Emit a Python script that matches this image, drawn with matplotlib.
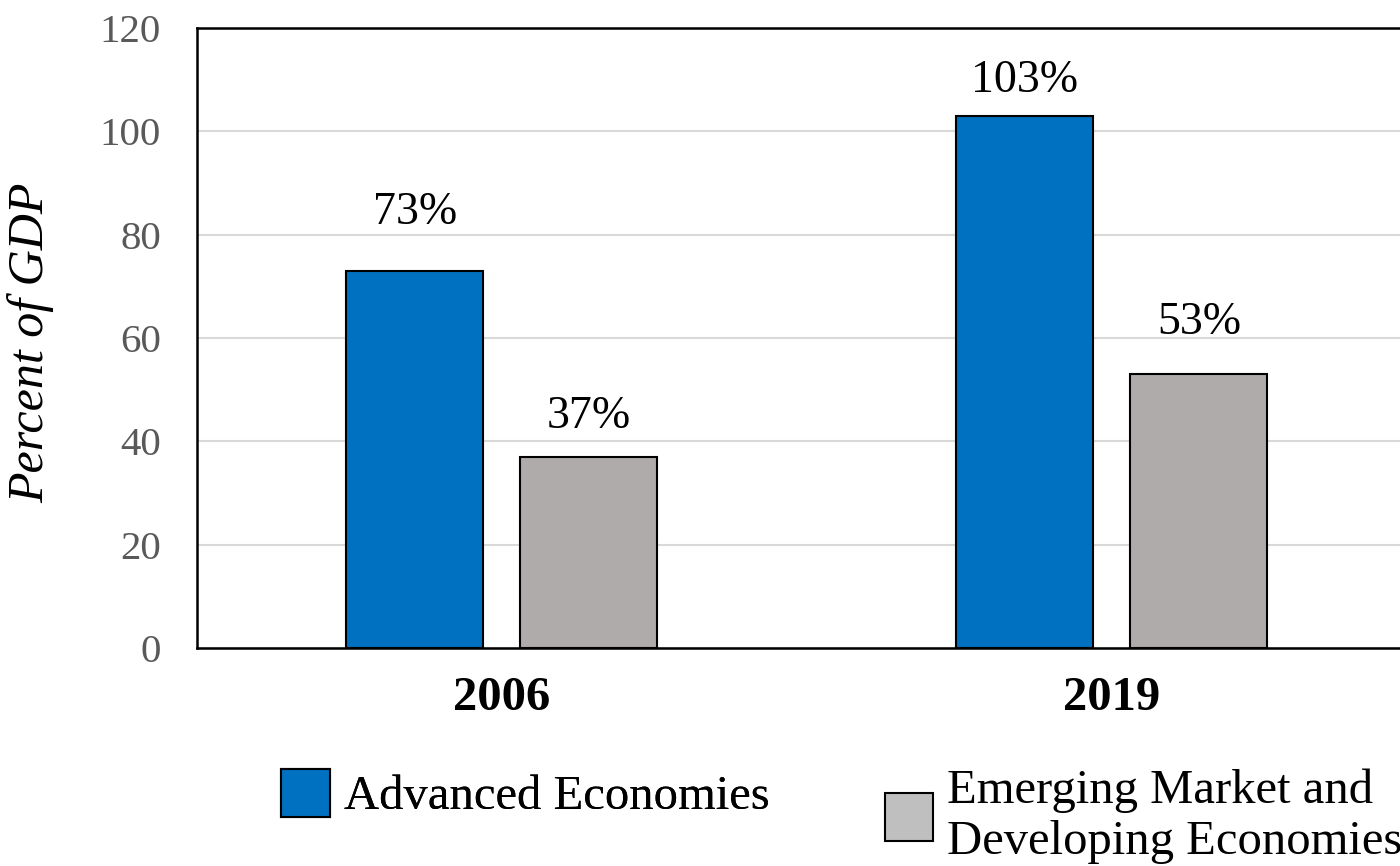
import numpy as np
import matplotlib.pyplot as plt
from matplotlib.patches import Patch

plt.rcParams['font.family'] = ['Liberation Serif', 'DejaVu Serif']

# Data
years = ['2006', '2019']
advanced = [73, 103]
emerging = [37, 53]
series_names = ['Advanced Economies', 'Emerging Market and\nDeveloping Economies']
yticks = [0, 20, 40, 60, 80, 100, 120]

# label offsets above bar tops (points), as placed in the original
adv_label_off = [42, 25]
emg_label_off = [29, 37]

blue = '#0070C0'
grey = '#AFABAB'

fig = plt.figure(figsize=(14, 8.66), dpi=100)
ax = fig.add_axes([0.1407, 0.2517, 0.8714, 0.716])

x = np.arange(len(years))
w = 0.2246
off = 0.1426
b1 = ax.bar(x - off, advanced, w, color=blue, edgecolor='black', linewidth=1.5, zorder=3)
b2 = ax.bar(x + off, emerging, w, color=grey, edgecolor='black', linewidth=1.5, zorder=3)

# value labels
for bars, vals, offs in [(b1, advanced, adv_label_off), (b2, emerging, emg_label_off)]:
    for rect, v, o in zip(bars, vals, offs):
        ax.annotate(f'{v}%', (rect.get_x() + rect.get_width() / 2, v),
                    xytext=(0, o), textcoords='offset points',
                    ha='center', va='center', fontsize=33)

ax.set_xlim(-0.5, 1.5)
ax.set_ylim(0, 120)
ax.set_yticks(yticks)
ax.set_yticklabels([str(t) for t in yticks], color='#595959', fontsize=29.5)
ax.tick_params(axis='y', length=0, pad=26)
ax.set_xticks(x)
ax.set_xticklabels(years, fontsize=35, fontweight='bold')
ax.tick_params(axis='x', length=0, pad=20)
ax.grid(axis='y', color='#D9D9D9', linewidth=1.5, zorder=0)
for s in ax.spines.values():
    s.set_color('black')
    s.set_linewidth(1.8)

ax.set_ylabel('Percent of GDP', fontsize=36, style='italic')
ax.yaxis.set_label_coords(-0.117, 0.492)

# legend
h1 = [Patch(facecolor=blue, edgecolor='black', linewidth=1.5)]
h2 = [Patch(facecolor='#BFBFBF', edgecolor='black', linewidth=1.5)]
kw = dict(frameon=False, fontsize=35, handlelength=1.0, handleheight=1.15,
          handletextpad=0.28, borderpad=0, borderaxespad=0)
leg1 = fig.legend(h1, [series_names[0]], loc='center left',
                  bbox_to_anchor=(0.201, 0.0831), **kw)
leg2 = fig.legend(h2, [series_names[1]], loc='center left',
                  bbox_to_anchor=(0.632, 0.0575), **kw)
for t in leg2.get_texts():
    t.set_linespacing(1.2)
fig.add_artist(leg1)

fig.savefig('out.png', dpi=100)
